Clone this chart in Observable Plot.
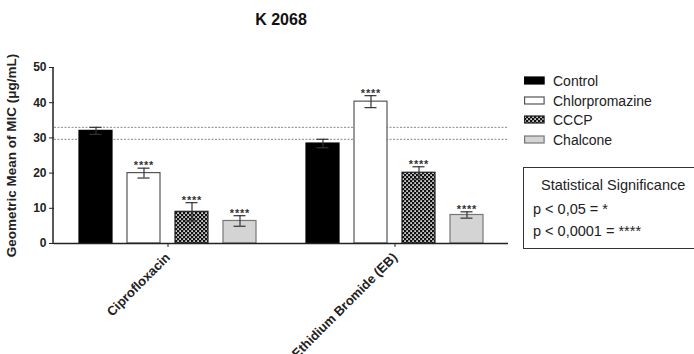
<!DOCTYPE html>
<html><head><meta charset="utf-8">
<script src="https://cdn.jsdelivr.net/npm/d3@7"></script>
<script src="https://cdn.jsdelivr.net/npm/@observablehq/plot@0.6"></script>
<style>
body{margin:0;background:#fff;font-family:"Liberation Sans",Arial,sans-serif;}
#wrap{position:relative;width:694px;height:354px;overflow:hidden;}
#title{position:absolute;left:0;width:562px;top:11px;text-align:center;font-weight:bold;font-size:16px;color:#111;}
.leg{position:absolute;left:524px;font-size:14px;color:#222;line-height:16px;}
.leg svg{position:absolute;left:0;}
.leg span{position:absolute;left:29px;white-space:nowrap;}
#box{position:absolute;left:523px;top:167px;width:180px;height:80px;border:1.5px solid #333;font-size:14.5px;color:#222;}
#box div{position:absolute;white-space:nowrap;}
</style></head><body><div id="wrap"></div>
<script>
const drugs = ["Ciprofloxacin", "Ethidium Bromide (EB)"];
const treatments = ["Control", "Chlorpromazine", "CCCP", "Chalcone"];
const meanCipro = [32.0, 20.0, 9.0, 6.4];
const meanEB = [28.4, 40.3, 20.1, 8.1];
const errCipro = [1.0, 1.4, 2.6, 1.5];
const errEB = [1.2, 1.7, 1.7, 0.9];
const sigCipro = ["", "****", "****", "****"];
const sigEB = ["", "****", "****", "****"];
const refLines = [33.0, 29.6];
const yTicks = [0, 10, 20, 30, 40, 50];
const yLabel = "Geometric Mean of MIC (μg/mL)";
const titleText = "K 2068";
const sigTitle = "Statistical Significance";
const sigLines = ["p < 0,05 = *", "p < 0,0001 = ****"];

const rows = [];
drugs.forEach((drug, i) => {
  const m = i === 0 ? meanCipro : meanEB;
  const e = i === 0 ? errCipro : errEB;
  const s = i === 0 ? sigCipro : sigEB;
  treatments.forEach((t, j) => rows.push({drug, treatment: t, mean: m[j], lo: m[j] - e[j], hi: m[j] + e[j], sig: s[j]}));
});

const look = {
  "Control": {fill: "#000", stroke: "#000"},
  "Chlorpromazine": {fill: "#fff", stroke: "#555"},
  "CCCP": {fill: "url(#checker)", stroke: "#222"},
  "Chalcone": {fill: "#d4d4d4", stroke: "#777"}
};

const barMarks = treatments.map(t => Plot.barY(rows.filter(d => d.treatment === t), {
  fx: "drug", x: "treatment", y: "mean", fill: look[t].fill, stroke: look[t].stroke, strokeWidth: 1.2
}));

const chart = Plot.plot({
  width: 694, height: 354,
  marginLeft: 53, marginRight: 186, marginTop: 67, marginBottom: 111,
  style: {fontFamily: "Liberation Sans, Arial, sans-serif", fontSize: "12px", fontWeight: "bold", color: "#222", background: "#fff"},
  fx: {domain: drugs, paddingInner: 0, paddingOuter: 0, tickRotate: -45, tickSize: 4, label: null, axis: "bottom"},
  x: {domain: treatments, paddingInner: 0.317, paddingOuter: 0.513, axis: null},
  y: {domain: [0, 50], ticks: yTicks, tickSize: 5, tickPadding: 3, label: yLabel, labelAnchor: "center", labelArrow: "none", labelOffset: 48},
  marks: [
    Plot.ruleY(refLines, {stroke: "#888", strokeWidth: 1, strokeDasharray: "2,1.5"}),
    ...barMarks,
    Plot.ruleX(rows, {fx: "drug", x: "treatment", y1: "lo", y2: "hi", stroke: "#333", strokeWidth: 1.2}),
    Plot.tickY(rows, {fx: "drug", x: "treatment", y: "hi", stroke: "#333", strokeWidth: 1.2, insetLeft: 10.5, insetRight: 10.5}),
    Plot.tickY(rows, {fx: "drug", x: "treatment", y: "lo", stroke: "#333", strokeWidth: 1.2, insetLeft: 10.5, insetRight: 10.5}),
    Plot.text(rows, {fx: "drug", x: "treatment", y: "hi", text: "sig", lineAnchor: "bottom", dy: 1, fontSize: 11, fill: "#333", fontWeight: "bold"}),
    Plot.ruleY([0], {stroke: "#222", strokeWidth: 1.5})
  ]
});

const svg = d3.select(chart);
const defs = svg.insert("defs", ":first-child");
const pat = defs.append("pattern").attr("id", "checker").attr("width", 4).attr("height", 4).attr("patternUnits", "userSpaceOnUse");
pat.append("rect").attr("width", 4).attr("height", 4).attr("fill", "#111");
pat.append("rect").attr("x", 0.3).attr("y", 0.3).attr("width", 1.6).attr("height", 1.6).attr("fill", "#fff");
pat.append("rect").attr("x", 2.3).attr("y", 2.3).attr("width", 1.6).attr("height", 1.6).attr("fill", "#fff");

// font sizes of axis parts
svg.selectAll('[aria-label="y-axis label"] text').style("font-size", "13.5px");
svg.selectAll('[aria-label="fx-axis tick label"] text').style("font-size", "13px");
svg.selectAll('[aria-label="text"] text').style("letter-spacing", "0.8px");

// y-axis line using the chart's y scale
const ys = chart.scale("y");
svg.append("line").attr("x1", 53).attr("x2", 53)
  .attr("y1", ys.apply(0)).attr("y2", ys.apply(50))
  .attr("stroke", "#222").attr("stroke-width", 1.5);

const wrap = document.getElementById("wrap");
wrap.appendChild(chart);

const title = document.createElement("div");
title.id = "title"; title.textContent = titleText;
wrap.appendChild(title);

const legTops = [73, 93, 112, 132];
treatments.forEach((t, i) => {
  const d = document.createElement("div");
  d.className = "leg";
  d.style.top = legTops[i] + "px";
  d.innerHTML = `<svg width="21" height="16"><rect x="0.6" y="4" width="19.5" height="7" fill="${look[t].fill}" stroke="${look[t].stroke}" stroke-width="1.2"/></svg><span>${t}</span>`;
  wrap.appendChild(d);
});

const box = document.createElement("div");
box.id = "box";
box.innerHTML = `<div style="left:17px;top:9px">${sigTitle}</div><div style="left:9px;top:33px">${sigLines[0]}</div><div style="left:9px;top:55px">${sigLines[1]}</div>`;
wrap.appendChild(box);
</script></body></html>
